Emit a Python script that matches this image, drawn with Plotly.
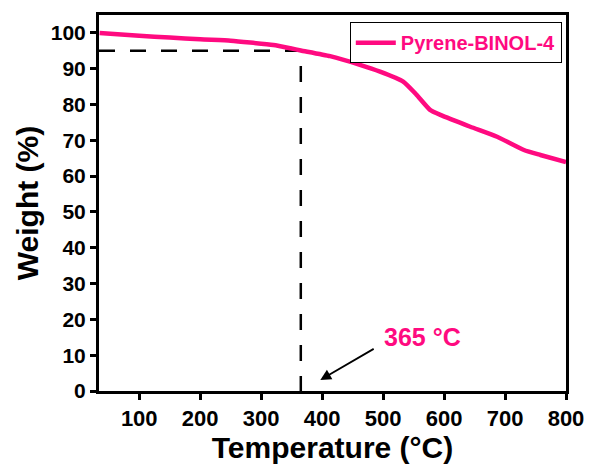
import plotly.graph_objects as go

# Data
temperature = [35, 100, 150, 200, 250, 282, 320, 348, 365, 413, 462, 495, 533, 555, 577, 594, 643, 687, 731, 758, 800]
weight =      [100.0, 99.2, 98.7, 98.2, 97.8, 97.3, 96.6, 95.7, 95.1, 93.5, 91.1, 89.2, 86.4, 82.7, 78.5, 77.1, 73.8, 71.0, 67.3, 65.9, 63.9]
series_name = "Pyrene-BINOL-4"

t5_temp = 365
t5_weight = 95
x_range = [34, 800]
y_range = [0, 105]
x_ticks = [100, 200, 300, 400, 500, 600, 700, 800]
y_ticks = [0, 10, 20, 30, 40, 50, 60, 70, 80, 90, 100]

pink = "#ff0a80"
font_family = "Liberation Sans, Arial, sans-serif"

fig = go.Figure()

# dashed guide lines (horizontal then vertical)
fig.add_trace(go.Scatter(
    x=[x_range[0], t5_temp, t5_temp], y=[t5_weight, t5_weight, y_range[0]],
    mode="lines", line=dict(color="black", width=2.5, dash="16px,15px"),
    showlegend=False, hoverinfo="skip", cliponaxis=False))

fig.add_trace(go.Scatter(
    x=temperature, y=weight, mode="lines", name="<b>" + series_name + "</b>",
    line=dict(color=pink, width=4.5, shape="spline", smoothing=0.5)))

axis_common = dict(
    showline=True, linecolor="black", linewidth=3, mirror=True,
    ticks="outside", ticklen=6, tickwidth=2.5, tickcolor="black",
    showgrid=False, zeroline=False, automargin=False,
    title_font=dict(family=font_family, size=30, color="black"),
)

fig.update_xaxes(range=x_range, tickvals=x_ticks, title_text="<b>Temperature (°C)</b>",
                 ticktext=[f"<b>{v}</b>" for v in x_ticks], title_standoff=4,
                 tickfont=dict(family=font_family, size=22, color="black"), **axis_common)
fig.update_yaxes(range=y_range, tickvals=y_ticks, title_text="<b>Weight (%)</b>",
                 ticktext=[f"<b>{v}</b>" for v in y_ticks], title_standoff=4,
                 tickfont=dict(family=font_family, size=21, color="black"), **axis_common)

fig.add_annotation(x=397, y=3.1, ax=487, ay=12, xref="x", yref="y", axref="x", ayref="y",
                   showarrow=True, arrowhead=2, arrowsize=1.2, arrowwidth=1.8, arrowcolor="black", text="")
fig.add_annotation(x=564, y=15.2, xref="x", yref="y", showarrow=False,
                   text="<b>365 °C</b>", font=dict(family=font_family, size=25, color=pink))

fig.update_layout(
    width=591, height=469,
    margin=dict(l=99, r=25, t=15, b=78, autoexpand=False),
    paper_bgcolor="white", plot_bgcolor="white",
    legend=dict(x=0.991, y=0.981, xanchor="right", yanchor="top",
                bordercolor="black", borderwidth=1, bgcolor="white",
                font=dict(family=font_family, size=20, color=pink),
                itemwidth=40, tracegroupgap=0),
    showlegend=True,
)

fig.write_html("out.html")
